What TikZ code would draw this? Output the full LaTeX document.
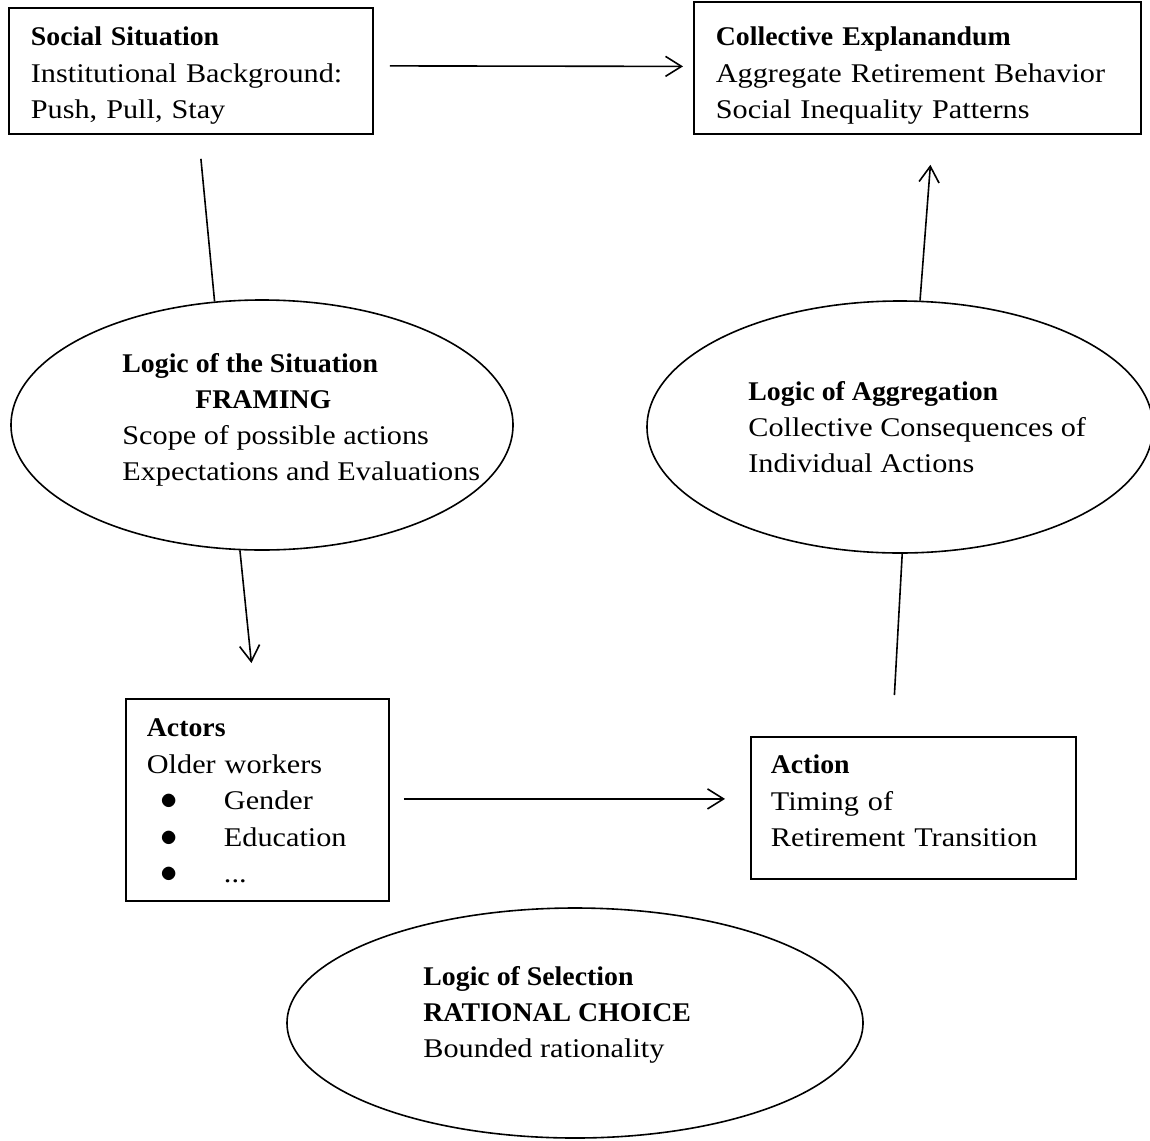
\documentclass[tikz,border=0pt]{standalone}
\usepackage{fontspec}
\usepackage{graphicx}
\setmainfont{Liberation Serif}[FakeStretch=1.12,BoldFeatures={FakeStretch=1.03}]
\usetikzlibrary{calc,arrows.meta,shapes.geometric}
\newcommand\px{0.5pt}
\newcommand\actbullet{\hspace*{7pt}\scalebox{1.2}{$\bullet$}\hspace{22.9pt}}

\begin{document}
\begin{tikzpicture}[
    x=\px, y=-\px,
    box/.style = {
      draw=black,
      line width=0.9pt,
      anchor=north west,
      inner ysep=0pt,
      align=left,
      font=\fontsize{13.5}{18.25}\selectfont,
    },
    oval/.style = {
      draw=black,
      ellipse,
      line width=0.8pt,
      inner sep=0pt,
    },
    txt/.style = {
      anchor=base west,
      inner sep=0pt,
      align=left,
      font=\fontsize{13.5}{18}\selectfont,
    },
    arr/.style = {
      draw=black,
      line width=0.8pt,
      -{Straight Barb[length=8pt,width=10pt]},
    },
    link/.style = {
      draw=black,
      line width=0.8pt,
    },
  ]
  \useasboundingbox (0,0) rectangle (1150,1140);

  % boxes
  \node[box, inner xsep=11pt, text width=160pt, text height=19pt, text depth=44pt] (social) at (8,7)
    {\textbf{Social Situation}\\Institutional Background:\\Push, Pull, Stay};
  \node[box, inner xsep=11pt, text width=201.5pt, text height=22pt, text depth=44pt] (expl) at (693,1)
    {\textbf{Collective Explanandum}\\Aggregate Retirement Behavior\\Social Inequality Patterns};
  \node[box, inner xsep=10.5pt, text width=110.5pt, text height=19pt, text depth=82pt] (actors) at (125,698)
    {\textbf{Actors}\\Older workers\\
     \actbullet Gender\\
     \actbullet Education\\
     \actbullet ...};
  \node[box, inner xsep=10pt, text width=142.5pt, text height=18.5pt, text depth=52.5pt] (action) at (750,736)
    {\textbf{Action}\\Timing of\\Retirement Transition};

  % ellipses
  \node[oval, minimum width=251pt, minimum height=125pt] (situ) at (262,425) {};
  \node[txt] (situtxt) at (122,480)
    {\textbf{Logic of the Situation}\\\hspace*{36.5pt}\textbf{FRAMING}\\Scope of possible actions\\Expectations and Evaluations};
  \node[oval, minimum width=253pt, minimum height=126pt] (aggr) at (900,427) {};
  \node[txt] (aggrtxt) at (748,472)
    {\textbf{Logic of Aggregation}\\Collective Consequences of\\Individual Actions};
  \node[oval, minimum width=288pt, minimum height=115pt] (sel) at (575,1023) {};
  \node[txt] (seltxt) at (423,1057)
    {\textbf{Logic of Selection}\\\textbf{RATIONAL CHOICE}\\Bounded rationality};

  % free ends
  \coordinate (a1) at ($(social.east)+(16,-5)$);
  \coordinate (a2) at ($(expl.west)+(-10,-1.5)$);
  \coordinate (s1) at ($(social.south)+(10,24)$);
  \coordinate (s2) at ($(actors.north)+(-6,-35)$);
  \coordinate (b1) at ($(actors.east)+(14,-1)$);
  \coordinate (b2) at ($(action.west)+(-25,-9)$);
  \coordinate (c1) at ($(action.north)+(-19,-41)$);
  \coordinate (c2) at ($(expl.south)+(13,30)$);

  % connectors
  \draw[arr] (a1) -- (a2);
  \draw[link] (s1) -- (situ.111);
  \draw[arr] (situ.260) -- (s2);
  \draw[arr] (b1) -- (b2);
  \draw[link] (c1) -- (aggr.271);
  \draw[arr] (aggr.81) -- (c2);
\end{tikzpicture}
\end{document}
